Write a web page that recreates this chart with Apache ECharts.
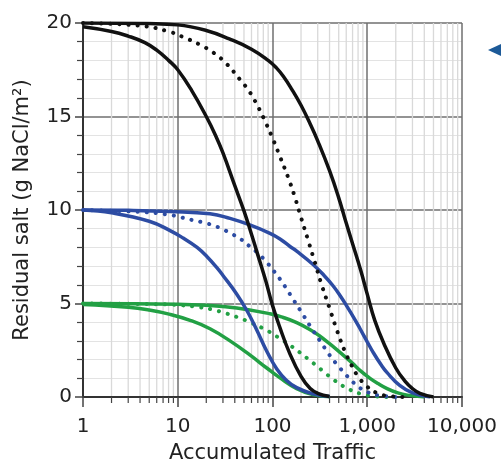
<!DOCTYPE html>
<html>
<head>
<meta charset="UTF-8">
<script src="https://cdn.jsdelivr.net/npm/echarts@6/dist/echarts.min.js"></script>
<style>
    html, body { margin: 0; padding: 0; background: #fff; }
    #chart { width: 501px; height: 471px; }
</style>
</head>
<body>
<div id="chart"></div>
<script type="text/javascript">
    // values: [accumulated traffic, residual salt]
    let blackSolidA = [[1, 19.8], [2, 19.55], [3, 19.3], [4.5, 18.95], [6, 18.55], [8, 18.0], [10, 17.5], [14, 16.4], [20, 15.0], [25, 14.0], [30, 13.05], [40, 11.3], [50, 9.95], [60, 8.7], [70, 7.6], [85, 6.2], [100, 4.9], [120, 3.7], [150, 2.4], [200, 1.1], [250, 0.45], [300, 0.2], [400, 0.03]];
    let blackDotted = [[1, 20], [4, 19.85], [8, 19.55], [12, 19.2], [17, 18.85], [24, 18.4], [33, 17.8], [45, 17.0], [55, 16.45], [65, 15.85], [80, 14.95], [100, 13.85], [120, 12.85], [146, 11.75], [172, 10.7], [200, 9.6], [237, 8.4], [280, 7.2], [330, 6.0], [400, 4.75], [480, 3.55], [580, 2.45], [690, 1.65], [800, 1.1], [1000, 0.55], [1260, 0.22], [1620, 0.06], [2500, 0]];
    let blackSolidB = [[1, 20], [5, 19.97], [10, 19.9], [20, 19.6], [35, 19.15], [60, 18.6], [90, 18.0], [110, 17.6], [130, 17.15], [160, 16.45], [200, 15.6], [250, 14.6], [300, 13.7], [400, 12.1], [500, 10.65], [600, 9.3], [700, 8.2], [850, 6.8], [1000, 5.5], [1200, 4.1], [1500, 2.85], [2000, 1.55], [2500, 0.85], [3000, 0.45], [3600, 0.2], [5000, 0]];
    let blueSolidA = [[1, 10], [2, 9.85], [5, 9.4], [8.3, 8.9], [11.4, 8.5], [16, 8.0], [20.4, 7.5], [26, 6.9], [30, 6.5], [42, 5.5], [54, 4.6], [68, 3.6], [87, 2.45], [111, 1.5], [140, 0.9], [180, 0.5], [266, 0.17], [400, 0.03]];
    let blueDotted = [[1, 10], [4, 9.9], [8, 9.75], [10.6, 9.62], [14, 9.47], [18, 9.35], [23, 9.2], [29, 9.0], [37.3, 8.72], [47.5, 8.4], [57.6, 8.05], [70, 7.7], [87, 7.2], [101, 6.8], [120, 6.3], [140, 5.8], [164, 5.25], [210, 4.4], [249, 3.8], [317, 3.0], [375, 2.45], [435, 2.0], [515, 1.55], [580, 1.25], [690, 0.85], [800, 0.55], [1000, 0.27], [1260, 0.1], [2000, 0]];
    let blueSolidB = [[1, 10], [3, 9.98], [8.3, 9.92], [21.9, 9.8], [35.6, 9.55], [57.6, 9.2], [94, 8.75], [120, 8.45], [153, 8.05], [180, 7.8], [266, 7.1], [350, 6.5], [435, 5.95], [520, 5.4], [610, 4.85], [720, 4.25], [840, 3.65], [1000, 2.95], [1150, 2.4], [1400, 1.72], [1620, 1.3], [2200, 0.62], [3000, 0.22], [4600, 0]];
    let greenSolidA = [[1, 4.95], [3, 4.8], [5, 4.65], [8.3, 4.42], [13.5, 4.1], [21.9, 3.65], [35.6, 3.0], [57.6, 2.25], [87, 1.55], [120, 1.02], [180, 0.45], [266, 0.13], [400, 0.01]];
    let greenDotted = [[1, 5], [5, 4.97], [10, 4.92], [17, 4.8], [23.5, 4.67], [30, 4.52], [42, 4.28], [57.6, 4.0], [83, 3.62], [114, 3.2], [160, 2.7], [206, 2.28], [249, 1.95], [295, 1.65], [357, 1.3], [435, 0.95], [540, 0.62], [650, 0.4], [840, 0.18], [1100, 0.06], [1600, 0]];
    let greenSolidB = [[1, 5], [10, 4.96], [20, 4.9], [42, 4.76], [94, 4.45], [130, 4.25], [180, 3.98], [250, 3.6], [317, 3.25], [400, 2.85], [480, 2.52], [600, 2.1], [700, 1.8], [850, 1.4], [1070, 1.0], [1300, 0.72], [1620, 0.45], [2100, 0.22], [2650, 0.1], [4000, 0]];

    // minor ticks of the log axis (2..9 in every decade)
    let minorTicks = [2, 3, 4, 5, 6, 7, 8, 9, 20, 30, 40, 50, 60, 70, 80, 90, 200, 300, 400, 500, 600, 700, 800, 900, 2000, 3000, 4000, 5000, 6000, 7000, 8000, 9000];

    const BLACK = '#111111';
    const BLUE = '#2d4ca3';
    const GREEN = '#22a044';
    const FONT = 'DejaVu Sans';

    let chart = echarts.init(document.getElementById('chart'));

    function curve(data, color, dotted) {
        return {
            type: 'line',
            data: data,
            smooth: 0.45,
            symbol: 'none',
            silent: true,
            z: 3,
            lineStyle: dotted
                ? {color: color, width: 4, type: [0.1, 9], cap: 'round'}
                : {color: color, width: 3.5}
        };
    }

    let option = {
        backgroundColor: '#fff',
        animation: false,
        grid: {left: 83, right: 39, top: 23, bottom: 74},
        xAxis: {
            type: 'log',
            logBase: 10,
            min: 1,
            max: 10000,
            name: 'Accumulated Traffic',
            nameLocation: 'middle',
            nameGap: 46,
            nameTextStyle: {fontFamily: FONT, fontSize: 21, color: '#222', verticalAlign: 'top'},
            axisLine: {lineStyle: {color: '#333', width: 2}},
            axisTick: {length: 10, lineStyle: {color: '#444', width: 1.5}},
            axisLabel: {
                fontFamily: FONT, fontSize: 20, color: '#222', margin: 20,
                formatter: function (v) { return Number(v).toLocaleString('en-US'); }
            },
            splitLine: {show: true, lineStyle: {color: '#6f6f6f', width: 1.5}}
        },
        yAxis: {
            type: 'value',
            min: 0,
            max: 20,
            interval: 5,
            name: 'Residual salt (g NaCl/m²)',
            nameLocation: 'middle',
            nameGap: 50,
            nameRotate: 90,
            nameTextStyle: {fontFamily: FONT, fontSize: 21, color: '#222'},
            axisLine: {show: true, lineStyle: {color: '#333', width: 2}},
            axisTick: {length: 8, lineStyle: {color: '#444', width: 1.5}},
            minorTick: {show: true, splitNumber: 5, length: 6, lineStyle: {color: '#444', width: 1.2}},
            minorSplitLine: {show: true, lineStyle: {color: '#e3e3e3', width: 1}},
            axisLabel: {fontFamily: FONT, fontSize: 20, color: '#222', margin: 11},
            splitLine: {show: true, lineStyle: {color: '#6f6f6f', width: 1.5}}
        },
        graphic: [{
            type: 'polygon',
            shape: {points: [[488, 50], [501, 44], [501, 56]]},
            style: {fill: '#1d5a98'}
        }],
        series: [
            {
                type: 'custom',
                silent: true,
                clip: false,
                z: 1,
                data: minorTicks.map(function (v) { return [v, 0]; }),
                renderItem: function (params, api) {
                    let top = api.coord([api.value(0), 20]);
                    let bottom = api.coord([api.value(0), 0]);
                    return {
                        type: 'group',
                        children: [
                            {type: 'line', shape: {x1: bottom[0], y1: top[1], x2: bottom[0], y2: bottom[1] - 1}, style: {stroke: '#d9d9d9', lineWidth: 1.3}},
                            {type: 'line', shape: {x1: bottom[0], y1: bottom[1], x2: bottom[0], y2: bottom[1] + 6}, style: {stroke: '#444', lineWidth: 1.2}}
                        ]
                    };
                }
            },
            curve(greenSolidA, GREEN, false),
            curve(greenDotted, GREEN, true),
            curve(greenSolidB, GREEN, false),
            curve(blueSolidA, BLUE, false),
            curve(blueDotted, BLUE, true),
            curve(blueSolidB, BLUE, false),
            curve(blackSolidA, BLACK, false),
            curve(blackDotted, BLACK, true),
            curve(blackSolidB, BLACK, false)
        ]
    };
    chart.setOption(option);
</script>
</body>
</html>
